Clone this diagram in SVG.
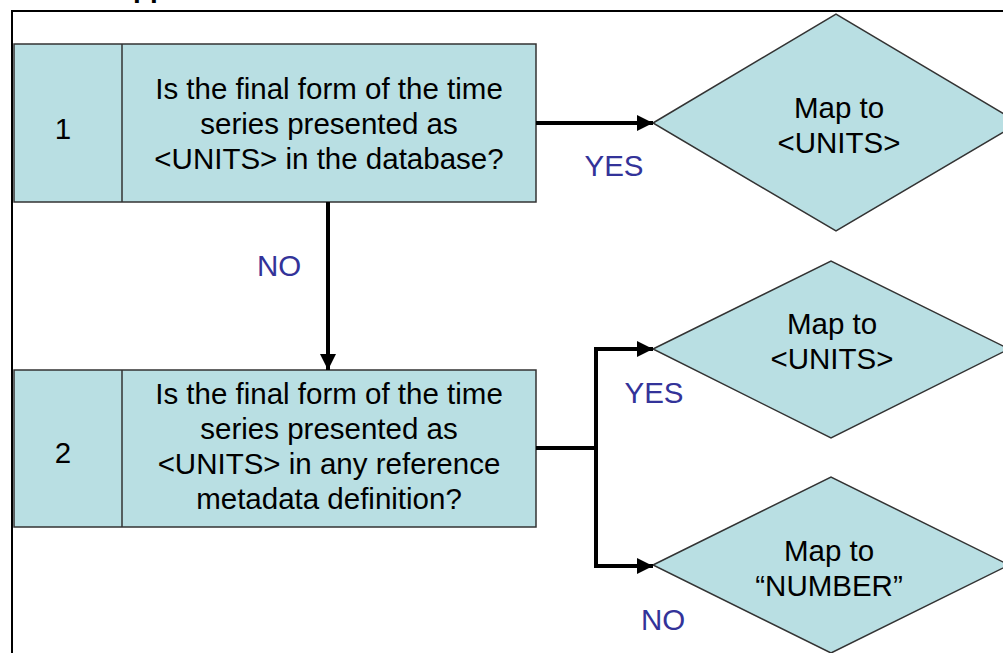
<svg xmlns="http://www.w3.org/2000/svg" width="1003" height="653" viewBox="0 0 1003 653">
<defs>
<style>
.box{fill:#b9dfe3;stroke:#333;stroke-width:1.5}
.t{font-family:"Liberation Sans",Arial,sans-serif;font-size:29.5px;fill:#000;text-anchor:middle}
.lab{font-family:"Liberation Sans",Arial,sans-serif;font-size:29.5px;fill:#333399;text-anchor:middle}
.con{fill:none;stroke:#000;stroke-width:4}
</style>
<marker id="ah" viewBox="0 0 10 10" refX="10" refY="5" markerWidth="4" markerHeight="4" orient="auto" markerUnits="strokeWidth">
<path d="M0,0 L10,5 L0,10 z" fill="#000"/>
</marker>
</defs>
<rect width="1003" height="653" fill="#fff"/>
<text x="133" y="-3" font-family="Liberation Sans,Arial,sans-serif" font-size="28" font-weight="bold">pp</text>
<rect x="12" y="11" width="1010" height="660" fill="none" stroke="#000" stroke-width="2"/>
<g id="q1">
<rect class="box" x="14" y="44" width="522" height="158"/>
<line x1="122" y1="44" x2="122" y2="202" stroke="#333" stroke-width="1.5"/>
<text class="t" x="63" y="139">1</text>
<text class="t" x="329" y="99">Is the final form of the time</text>
<text class="t" x="329" y="134">series presented as</text>
<text class="t" x="329" y="169">&lt;UNITS&gt; in the database?</text>
</g>
<g id="q2">
<rect class="box" x="14" y="370" width="522" height="157"/>
<line x1="122" y1="370" x2="122" y2="527" stroke="#333" stroke-width="1.5"/>
<text class="t" x="63" y="463">2</text>
<text class="t" x="329" y="404">Is the final form of the time</text>
<text class="t" x="329" y="439">series presented as</text>
<text class="t" x="329" y="474">&lt;UNITS&gt; in any reference</text>
<text class="t" x="329" y="509">metadata definition?</text>
</g>
<g id="d1">
<polygon class="box" points="653,123 836,14 1019,123 836,231"/>
<text class="t" x="839" y="118">Map to</text>
<text class="t" x="839" y="153">&lt;UNITS&gt;</text>
</g>
<g id="d2">
<polygon class="box" points="653,349 831,261 1009,349 831,438"/>
<text class="t" x="832" y="334">Map to</text>
<text class="t" x="832" y="369">&lt;UNITS&gt;</text>
</g>
<g id="d3">
<polygon class="box" points="653,565 831,477 1009,565 831,653"/>
<text class="t" x="829" y="561">Map to</text>
<text class="t" x="829" y="596">“NUMBER”</text>
</g>
<g id="connectors">
<line class="con" x1="536" y1="123" x2="653" y2="123" marker-end="url(#ah)"/>
<line class="con" x1="328" y1="202" x2="328" y2="370" marker-end="url(#ah)"/>
<polyline class="con" points="536,448 596,448 596,349 653,349" marker-end="url(#ah)"/>
<polyline class="con" points="596,448 596,566 653,566" marker-end="url(#ah)"/>
<text class="lab" x="614" y="176">YES</text>
<text class="lab" x="279" y="276">NO</text>
<text class="lab" x="654" y="403">YES</text>
<text class="lab" x="663" y="630">NO</text>
</g>
</svg>
